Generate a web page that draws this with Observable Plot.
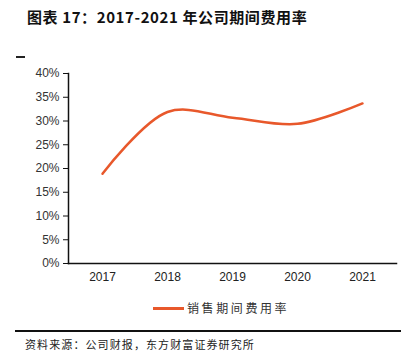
<!DOCTYPE html>
<html><head><meta charset="utf-8">
<script src="https://cdn.jsdelivr.net/npm/d3@7"></script>
<script src="https://cdn.jsdelivr.net/npm/@observablehq/plot@0.6"></script>
<style>
body{margin:0;background:#fff;width:401px;height:359px;overflow:hidden;position:relative;font-family:"Noto Sans CJK SC",sans-serif;}
#chart{position:absolute;left:0;top:0;}
.abs{position:absolute;white-space:nowrap;}
#title{left:27px;top:6px;font-size:15px;font-weight:bold;color:#111;letter-spacing:0.6px;}
#dash{left:16px;top:56px;width:9px;height:1.5px;background:#222;}
#legline{left:153px;top:307px;width:31px;height:3px;background:#E8582B;}
#legtext{left:187px;top:299px;font-size:12px;color:#333;letter-spacing:2.6px;}
#rule{left:15px;top:330px;width:386px;height:1.5px;background:#111;}
#caption{left:25px;top:336px;font-size:11px;color:#222;letter-spacing:1.1px;}
</style></head>
<body>
<div id="chart"></div>
<div class="abs" id="title">图表 17：2017-2021 年公司期间费用率</div>
<div class="abs" id="dash"></div>
<div class="abs" id="legline"></div>
<div class="abs" id="legtext">销售期间费用率</div>
<div class="abs" id="rule"></div>
<div class="abs" id="caption">资料来源：公司财报，东方财富证券研究所</div>
<script>
const years = ["2017", "2018", "2019", "2020", "2021"];
const rates = [0.189, 0.319, 0.307, 0.294, 0.337];
const yTicks = [0, 0.05, 0.10, 0.15, 0.20, 0.25, 0.30, 0.35, 0.40];
const seriesName = "销售期间费用率";

const data = years.map((y, i) => ({year: y, rate: rates[i], series: seriesName}));

const chart = Plot.plot({
  width: 401,
  height: 359,
  marginLeft: 68,
  marginRight: 5,
  marginTop: 73,
  marginBottom: 96,
  style: {fontFamily: "'Liberation Sans', Arial, sans-serif", fontSize: "12px", color: "#333", background: "transparent"},
  x: {type: "point", domain: years, padding: 0.5, label: null},
  y: {domain: [0, 0.4], ticks: yTicks, tickFormat: d => Math.round(d * 100) + "%", label: null},
  marks: [
    Plot.axisY({ticks: yTicks, tickFormat: d => Math.round(d * 100) + "%", tickSize: 5, tickPadding: 4, stroke: "#111", fill: "#333", fontSize: 12, label: null}),
    Plot.axisX({tickSize: 0, tickPadding: 9, fill: "#222", fontSize: 12, label: null}),
    Plot.frame({anchor: "left", stroke: "#111", strokeWidth: 1.5}),
    Plot.frame({anchor: "bottom", stroke: "#111", strokeWidth: 1.5}),
    Plot.line(data, {x: "year", y: "rate", stroke: "#E8582B", strokeWidth: 2.5, curve: "catmull-rom"})
  ]
});
document.getElementById("chart").appendChild(chart);
</script>
</body></html>
